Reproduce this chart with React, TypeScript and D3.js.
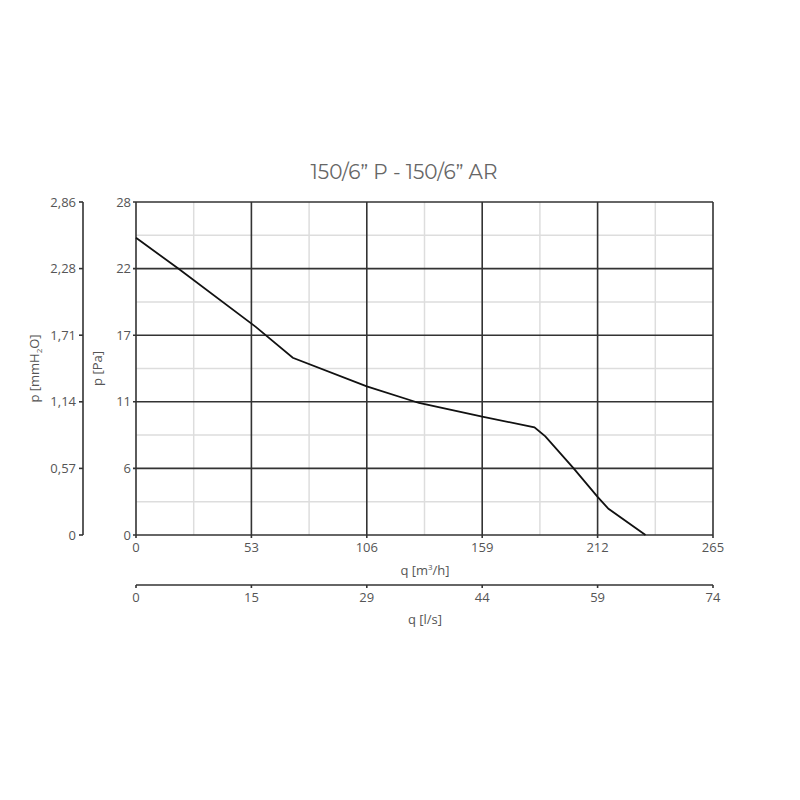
import React from "react";
import * as d3 from "d3";

const title = "150/6\u201D P - 150/6\u201D AR";
const qM3h = [0, 19.4, 55, 72, 106, 130, 159, 183, 188, 201, 212, 217, 234];
const pPa = [25, 22.4, 17.5, 14.9, 12.5, 11.1, 9.95, 9.05, 8.3, 5.6, 3.2, 2.2, 0];
const xTickLabels = ["0", "53", "106", "159", "212", "265"];
const lsTickLabels = ["0", "15", "29", "44", "59", "74"];
const paTickLabels = ["0", "6", "11", "17", "22", "28"];
const mmTickLabels = ["0", "0,57", "1,14", "1,71", "2,28", "2,86"];
const xMax = 265;
const yMax = 28;

export default function App() {
  const L = 136, R = 713, T = 202, B = 535;
  const x = d3.scaleLinear().domain([0, xMax]).range([L, R]);
  const y = d3.scaleLinear().domain([0, yMax]).range([B, T]);
  const majorX = d3.range(0, 6).map((i) => (i * xMax) / 5);
  const minorX = d3.range(0, 5).map((i) => ((i + 0.5) * xMax) / 5);
  const majorY = d3.range(0, 6).map((i) => (i * yMax) / 5);
  const minorY = d3.range(0, 5).map((i) => ((i + 0.5) * yMax) / 5);
  const data = qM3h.map((q, i) => [q, pPa[i]] as [number, number]);
  const line = d3
    .line<[number, number]>()
    .x((d) => x(d[0]))
    .y((d) => y(d[1]))
    .curve(d3.curveLinear);
  const textColor = "#555";
  const axisColor = "#333";
  const font = "'Open Sans', sans-serif";
  const fs = 13;
  const mmX = 83;
  const lsY = 585;
  return (
    <svg width={800} height={800} style={{ position: "absolute", left: 0, top: 0 }}>
      <rect width={800} height={800} fill="#fff" />
      <text x={404} y={179} textAnchor="middle" fontFamily="Montserrat, 'Open Sans', sans-serif" fontSize={20} fill="#666">
        {title}
      </text>
      {minorX.map((v, i) => (
        <line key={"mx" + i} x1={x(v)} x2={x(v)} y1={T} y2={B} stroke="#ddd" strokeWidth={1.5} />
      ))}
      {minorY.map((v, i) => (
        <line key={"my" + i} x1={L} x2={R} y1={y(v)} y2={y(v)} stroke="#ddd" strokeWidth={1.5} />
      ))}
      {majorX.map((v, i) => (
        <line key={"Mx" + i} x1={x(v)} x2={x(v)} y1={T} y2={B + 3} stroke={axisColor} strokeWidth={1.6} />
      ))}
      {majorY.map((v, i) => (
        <line key={"My" + i} x1={L - 3} x2={R} y1={y(v)} y2={y(v)} stroke={axisColor} strokeWidth={1.6} />
      ))}
      <path d={line(data) || ""} fill="none" stroke="#111" strokeWidth={1.8} />
      {majorY.map((v, i) => (
        <text key={"pl" + i} x={L - 5} y={y(v) + 4.5} textAnchor="end" fontFamily={font} fontSize={fs} fill={textColor}>
          {paTickLabels[i]}
        </text>
      ))}
      {majorX.map((v, i) => (
        <text key={"xl" + i} x={x(v)} y={B + 17} textAnchor="middle" fontFamily={font} fontSize={fs} fill={textColor}>
          {xTickLabels[i]}
        </text>
      ))}
      <text x={425} y={575} textAnchor="middle" fontFamily={font} fontSize={fs} fill={textColor}>
        q [m<tspan fontSize={8} dy={-5}>3</tspan>
        <tspan dy={5}>/h]</tspan>
      </text>
      {/* l/s axis */}
      <line x1={L} x2={R} y1={lsY} y2={lsY} stroke={axisColor} strokeWidth={1.6} />
      {majorX.map((v, i) => (
        <line key={"lt" + i} x1={x(v)} x2={x(v)} y1={lsY} y2={lsY + 3} stroke={axisColor} strokeWidth={1.6} />
      ))}
      {majorX.map((v, i) => (
        <text key={"ll" + i} x={x(v)} y={lsY + 17} textAnchor="middle" fontFamily={font} fontSize={fs} fill={textColor}>
          {lsTickLabels[i]}
        </text>
      ))}
      <text x={425} y={624} textAnchor="middle" fontFamily={font} fontSize={fs} fill={textColor}>
        q [l/s]
      </text>
      {/* mmH2O axis */}
      <line x1={mmX} x2={mmX} y1={T} y2={B} stroke={axisColor} strokeWidth={1.6} />
      {majorY.map((v, i) => (
        <line key={"mt" + i} x1={mmX - 4} x2={mmX} y1={y(v)} y2={y(v)} stroke={axisColor} strokeWidth={1.6} />
      ))}
      {majorY.map((v, i) => (
        <text key={"ml" + i} x={mmX - 7} y={y(v) + 4.5} textAnchor="end" fontFamily={font} fontSize={fs} fill={textColor}>
          {mmTickLabels[i]}
        </text>
      ))}
      <text transform={`translate(102,${(T + B) / 2}) rotate(-90)`} textAnchor="middle" fontFamily={font} fontSize={fs} fill={textColor}>
        p [Pa]
      </text>
      <text transform={`translate(39,${(T + B) / 2}) rotate(-90)`} textAnchor="middle" fontFamily={font} fontSize={fs} fill={textColor}>
        p [mmH<tspan fontSize={8} dy={3}>2</tspan>
        <tspan dy={-3}>O]</tspan>
      </text>
    </svg>
  );
}
